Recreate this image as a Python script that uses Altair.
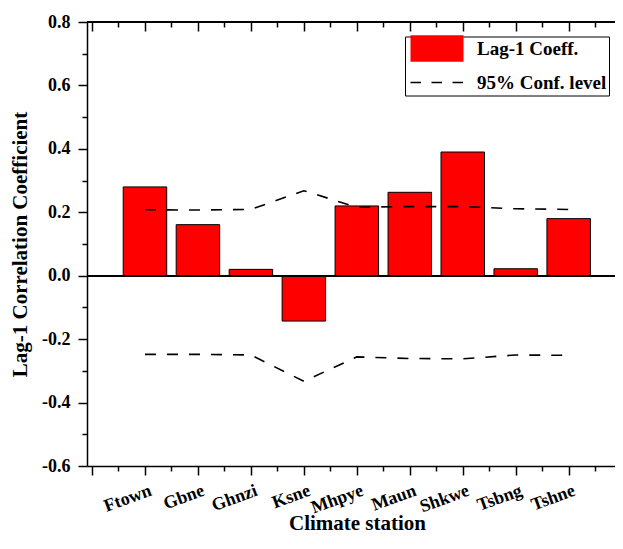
import altair as alt
import pandas as pd

stations = ["Ftown", "Gbne", "Ghnzi", "Ksne", "Mhpye", "Maun", "Shkwe", "Tsbng", "Tshne"]
lag1_coeff = [0.28, 0.161, 0.02, -0.143, 0.22, 0.263, 0.39, 0.022, 0.18]
conf_upper = [0.208, 0.207, 0.209, 0.268, 0.216, 0.218, 0.218, 0.211, 0.209]
conf_lower = [-0.248, -0.248, -0.25, -0.333, -0.256, -0.261, -0.262, -0.25, -0.251]
legend_labels = ["Lag-1 Coeff.", "95% Conf. level"]

x_major = list(range(0, 10))
x_minor = [i + 0.5 for i in range(0, 10)]
y_major = [-0.6, -0.4, -0.2, 0.0, 0.2, 0.4, 0.6, 0.8]
y_minor = [-0.5, -0.3, -0.1, 0.1, 0.3, 0.5, 0.7]

df = pd.DataFrame({
    "pos": list(range(1, len(stations) + 1)),
    "station": stations,
    "coeff": lag1_coeff,
    "upper": conf_upper,
    "lower": conf_lower,
    "series": legend_labels[0],
})

FONT = "Liberation Serif"
# the original frame runs past the right edge of the picture: show 0 .. ~9.78 of 0 .. 10
xs = alt.Scale(domain=[0, 9.78], nice=False, zero=False)
ys = alt.Scale(domain=[-0.6, 0.8], nice=False, zero=False)

bars = alt.Chart(df).mark_bar(color="#ff0000", stroke="black", strokeWidth=1, size=43.5).encode(
    x=alt.X("pos:Q", scale=xs, axis=alt.Axis(
        orient="bottom", values=x_major, tickSize=9, labels=False, domain=True,
        title="Climate station", titleX=270, titleY=63, titleBaseline="alphabetic",
        titleFontSize=21)),
    y=alt.Y("coeff:Q", scale=ys, axis=alt.Axis(
        orient="left", values=y_major, tickSize=9, labelPadding=8, labelFontSize=18,
        labelOverlap=False, domain=True,
        labelExpr="(datum.value < -0.0001 ? '-' : '') + format(abs(datum.value), '.1f')",
        title="Lag-1 Correlation Coefficient", titleX=-67, titleY=222,
        titleBaseline="middle", titleFontSize=21)),
)

# rotated station names under the category ticks
names = alt.Chart(df).mark_text(
    align="right", baseline="top", dx=3, font=FONT, fontSize=18,
    fontWeight="bold", color="black"
).encode(
    x=alt.X("pos:Q", scale=xs, axis=None),
    y=alt.value(461),
    angle=alt.value(340),
    text="station:N",
)

upper = alt.Chart(df).mark_line(color="black", strokeWidth=1.6, strokeDash=[11, 11]).encode(
    x=alt.X("pos:Q", scale=xs, axis=alt.Axis(orient="top", values=x_major, tickSize=9,
                                               offset=-9, labels=False, title=None)),
    y=alt.Y("upper:Q", scale=ys, axis=None),
)

lower = alt.Chart(df).mark_line(color="black", strokeWidth=1.6, strokeDash=[11, 11]).encode(
    x=alt.X("pos:Q", scale=xs, axis=alt.Axis(orient="top", values=x_minor, tickSize=5,
                                               offset=-5, labels=False, title=None)),
    y=alt.Y("lower:Q", scale=ys, axis=None),
)

zero = alt.Chart(df).mark_rule(color="black", strokeWidth=1.5).encode(
    y=alt.datum(0, scale=ys, axis=None)
)
top_line = alt.Chart(df).mark_rule(color="black", strokeWidth=1.5).encode(
    y=alt.datum(0.8, scale=ys, axis=None)
)

swatch_path = "M-1,-2.65L9.6,-2.65L9.6,2.65L-1,2.65Z"
dash_path = ("M-1,-0.14L1.1,-0.14L1.1,0.14L-1,0.14Z"
             "M3.2,-0.14L5.3,-0.14L5.3,0.14L3.2,0.14Z"
             "M7.4,-0.14L9.5,-0.14L9.5,0.14L7.4,0.14Z")
leg = alt.Legend(title=None, orient="none", legendX=318, legendY=14.5,
                 strokeColor="black", fillColor="white", padding=2.5,
                 symbolOffset=-1.5, labelOffset=52, rowPadding=9,
                 symbolSize=100, symbolStrokeColor="black", symbolStrokeWidth=0.8,
                 symbolOpacity=1, labelFont=FONT, labelFontSize=19,
                 labelFontWeight="bold", labelColor="black")

keypts = alt.Chart(df).mark_point(opacity=0, stroke="black", strokeWidth=0.8, filled=True).encode(
    x=alt.X("pos:Q", scale=xs, axis=alt.Axis(orient="bottom", values=x_minor, tickSize=5,
                                               labels=False, title=None)),
    y=alt.Y("coeff:Q", scale=ys, axis=alt.Axis(orient="left", values=y_minor, tickSize=5,
                                                 labels=False, title=None)),
    fill=alt.Fill("series:N", scale=alt.Scale(domain=legend_labels,
                                               range=["#ff0000", "black"]), legend=leg),
    shape=alt.Shape("series:N", scale=alt.Scale(domain=legend_labels,
                                                 range=[swatch_path, dash_path]), legend=leg),
)

chart = alt.layer(bars, names, upper, lower, zero, top_line, keypts).resolve_axis(
    x="independent", y="independent"
).properties(
    width=528, height=444,
    autosize=alt.AutoSizeParams(type="none"),
    padding={"left": 79, "top": 14, "right": 0, "bottom": 70},
).configure_view(
    stroke=None
).configure_axis(
    grid=False, domain=False, domainColor="black", domainWidth=1.5,
    tickColor="black", tickWidth=1.5,
    labelFont=FONT, labelFontWeight="bold", labelColor="black",
    titleFont=FONT, titleFontWeight="bold", titleColor="black",
)

chart.save("out.html", embed_options={"renderer": "svg", "actions": False})
